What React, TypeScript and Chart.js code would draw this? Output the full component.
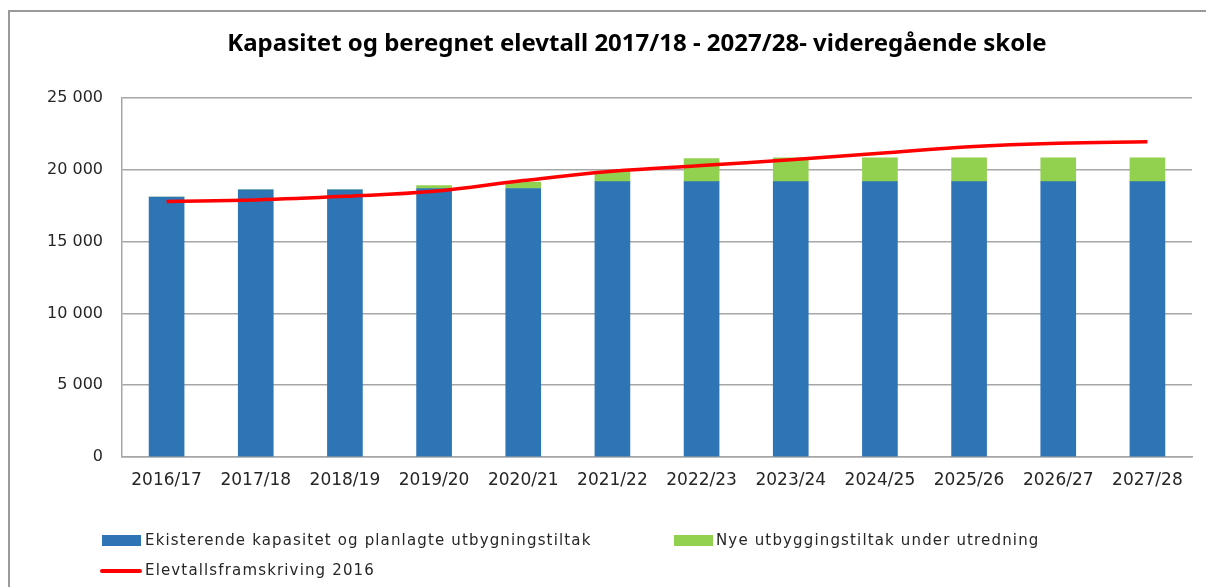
import { useEffect, useRef } from "react";
import { Chart, registerables } from "chart.js";

Chart.register(...registerables);

const chartTitle = "Kapasitet og beregnet elevtall 2017/18 - 2027/28- videregående skole";
const categories = ["2016/17", "2017/18", "2018/19", "2019/20", "2020/21", "2021/22", "2022/23", "2023/24", "2024/25", "2025/26", "2026/27", "2027/28"];
const existingCapacity = [18100, 18600, 18600, 18700, 18700, 19180, 19180, 19180, 19180, 19180, 19180, 19180];
const newExpansion = [0, 0, 0, 200, 450, 720, 1600, 1650, 1650, 1650, 1650, 1650];
const projection2016 = [17800, 17900, 18150, 18500, 19250, 19900, 20300, 20700, 21150, 21600, 21850, 21950];
const yTickLabels = ["0", "5 000", "10 000", "15 000", "20 000", "25 000"];
const seriesNames = [
  "Ekisterende kapasitet og planlagte utbygningstiltak",
  "Nye utbyggingstiltak under utredning",
  "Elevtallsframskriving 2016",
];

const BLUE = "#2E75B6";
const GREEN = "#92D050";
const RED = "#FF0000";
const GRID = "#A6A6A6";
const TEXT = "#262626";
const FONT = "'DejaVu Sans', 'Noto Sans', sans-serif";

export default function App() {
  const ref = useRef<HTMLCanvasElement>(null);

  useEffect(() => {
    document.body.style.margin = "0";
    const chart = new Chart(ref.current!, {
      type: "bar",
      data: {
        labels: categories,
        datasets: [
          {
            type: "line",
            label: seriesNames[2],
            data: projection2016,
            borderColor: RED,
            backgroundColor: RED,
            borderWidth: 3.5,
            tension: 0.4,
            pointRadius: 0,
            fill: false,
            order: 0,
            stack: "line",
          } as any,
          {
            type: "bar",
            label: seriesNames[0],
            data: existingCapacity,
            backgroundColor: BLUE,
            borderWidth: 0,
            barThickness: 35,
            stack: "cap",
            order: 1,
          },
          {
            type: "bar",
            label: seriesNames[1],
            data: newExpansion,
            backgroundColor: GREEN,
            borderWidth: 0,
            barThickness: 35,
            stack: "cap",
            order: 1,
          },
        ],
      },
      options: {
        responsive: false,
        maintainAspectRatio: false,
        animation: false,
        layout: { padding: { top: 98, right: 14, left: 0, bottom: 0 } },
        plugins: {
          legend: { display: false },
          title: { display: false },
          tooltip: { enabled: false },
        },
        scales: {
          x: {
            stacked: true,
            grid: { display: false, drawTicks: false },
            border: { display: true, color: GRID, width: 1.5 },
            ticks: {
              font: { family: FONT, size: 17 },
              color: TEXT,
              padding: 13,
              maxRotation: 0,
              autoSkip: false,
            },
            afterFit: (s: any) => {
              s.height = 130;
            },
          },
          y: {
            stacked: true,
            min: 0,
            max: 25000,
            ticks: {
              stepSize: 5000,
              font: { family: FONT, size: 16 },
              color: TEXT,
              padding: 19,
              callback: (_v: any, i: number) => yTickLabels[i],
            },
            grid: { color: GRID, lineWidth: 1.5, drawTicks: false },
            border: { display: true, color: GRID, width: 1.5 },
            afterFit: (s: any) => {
              s.width = 122;
            },
          },
        },
      },
    });
    return () => chart.destroy();
  }, []);

  const legendText: React.CSSProperties = {
    position: "absolute",
    fontFamily: FONT,
    fontSize: 15,
    letterSpacing: "1.15px",
    color: TEXT,
    whiteSpace: "nowrap",
    lineHeight: "18px",
  };

  return (
    <div style={{ position: "relative", width: 1206, height: 587, overflow: "hidden", background: "#fff" }}>
      <div
        style={{
          position: "absolute",
          left: 8,
          top: 10,
          width: 1250,
          height: 640,
          border: "2px solid #9a9a9a",
          boxSizing: "border-box",
        }}
      />
      <canvas ref={ref} width={1206} height={587} style={{ position: "absolute", left: 0, top: 0, display: "block" }} />
      <div
        style={{
          position: "absolute",
          left: 637,
          top: 27,
          transform: "translateX(-50%)",
          fontFamily: "'Noto Sans', 'DejaVu Sans', sans-serif",
          fontWeight: 700,
          fontSize: 24,
          color: "#000",
          whiteSpace: "nowrap",
          lineHeight: "30px",
        }}
      >
        {chartTitle}
      </div>
      <div style={{ position: "absolute", left: 102, top: 535, width: 39, height: 11, background: BLUE }} />
      <div style={{ ...legendText, left: 145, top: 531 }}>{seriesNames[0]}</div>
      <div style={{ position: "absolute", left: 674, top: 535, width: 39, height: 11, background: GREEN }} />
      <div style={{ ...legendText, left: 716, top: 531 }}>{seriesNames[1]}</div>
      <div style={{ position: "absolute", left: 100, top: 569, width: 42, height: 3.5, background: RED, borderRadius: 2 }} />
      <div style={{ ...legendText, left: 145, top: 561 }}>{seriesNames[2]}</div>
    </div>
  );
}
